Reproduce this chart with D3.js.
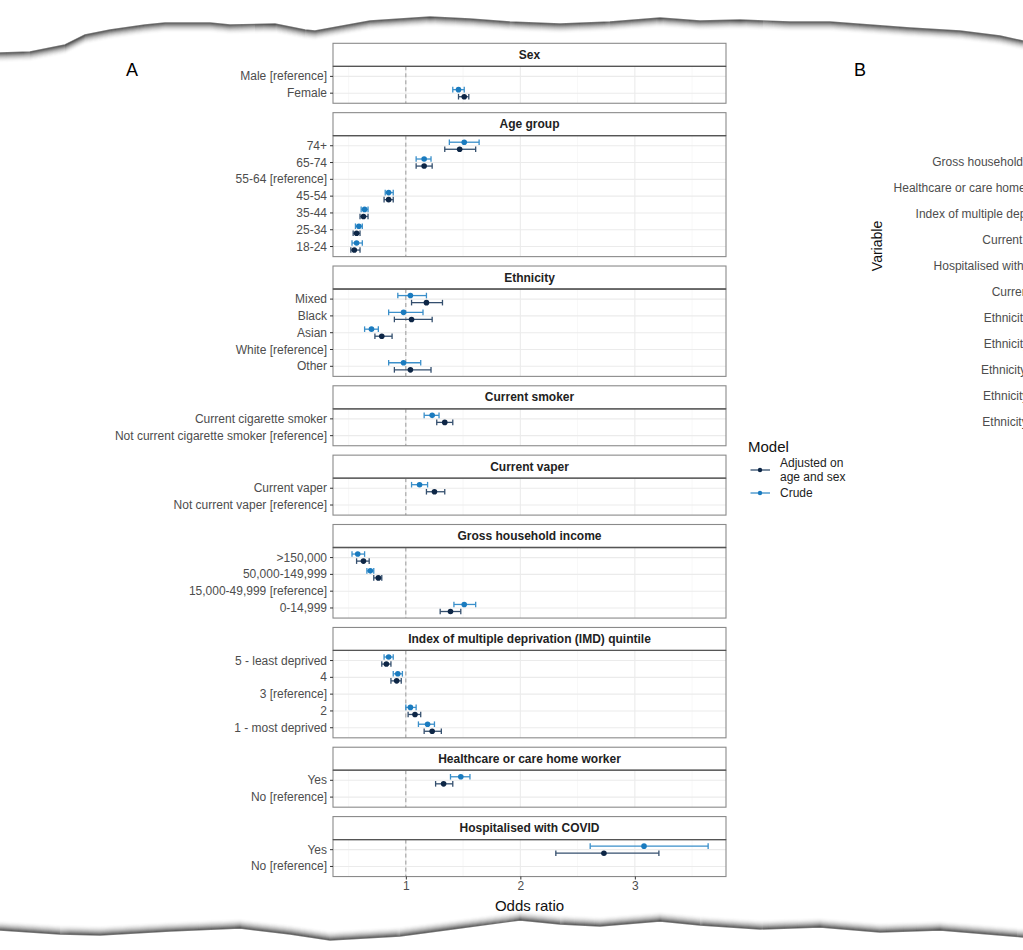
<!DOCTYPE html>
<html>
<head>
<meta charset="utf-8">
<title>Odds ratios</title>
<script src="https://d3js.org/d3.v7.min.js"></script>
<style>
  body { margin: 0; background: #fff; }
  svg { display: block; font-family: "Liberation Sans", Arial, sans-serif; }
</style>
</head>
<body>
<div id="chart"></div>
<script>
// DATA

var groups = ["Sex", "Age group", "Ethnicity", "Current smoker", "Current vaper",
  "Gross household income", "Index of multiple deprivation (IMD) quintile",
  "Healthcare or care home worker", "Hospitalised with COVID"];

var levels = [
  ["Male [reference]", "Female"],
  ["74+", "65-74", "55-64 [reference]", "45-54", "35-44", "25-34", "18-24"],
  ["Mixed", "Black", "Asian", "White [reference]", "Other"],
  ["Current cigarette smoker", "Not current cigarette smoker [reference]"],
  ["Current vaper", "Not current vaper [reference]"],
  [">150,000", "50,000-149,999", "15,000-49,999 [reference]", "0-14,999"],
  ["5 - least deprived", "4", "3 [reference]", "2", "1 - most deprived"],
  ["Yes", "No [reference]"],
  ["Yes", "No [reference]"]
];

var crudeOR = [[null, 1.46], [1.51, 1.16, null, 0.85, 0.64, 0.59, 0.57], [1.04, 0.98, 0.70, null, 0.98],
  [1.23, null], [1.12, null], [0.58, 0.69, null, 1.51], [0.85, 0.93, null, 1.04, 1.19], [1.48, null], [3.08, null]];
var crudeLo = [[null, 1.41], [1.38, 1.09, null, 0.82, 0.61, 0.56, 0.53], [0.93, 0.85, 0.64, null, 0.85],
  [1.16, null], [1.05, null], [0.53, 0.66, null, 1.42], [0.81, 0.89, null, 1.00, 1.11], [1.39, null], [2.61, null]];
var crudeHi = [[null, 1.51], [1.64, 1.22, null, 0.89, 0.67, 0.62, 0.62], [1.18, 1.15, 0.76, null, 1.13],
  [1.29, null], [1.19, null], [0.64, 0.72, null, 1.61], [0.89, 0.97, null, 1.09, 1.25], [1.56, null], [3.64, null]];

var adjOR = [[null, 1.51], [1.47, 1.16, null, 0.85, 0.63, 0.57, 0.55], [1.18, 1.05, 0.79, null, 1.04],
  [1.34, null], [1.25, null], [0.63, 0.76, null, 1.39], [0.83, 0.92, null, 1.08, 1.23], [1.33, null], [2.73, null]];
var adjLo = [[null, 1.46], [1.34, 1.09, null, 0.81, 0.60, 0.54, 0.52], [1.05, 0.90, 0.73, null, 0.90],
  [1.27, null], [1.18, null], [0.57, 0.72, null, 1.30], [0.79, 0.87, null, 1.02, 1.16], [1.26, null], [2.31, null]];
var adjHi = [[null, 1.55], [1.61, 1.23, null, 0.89, 0.67, 0.60, 0.60], [1.32, 1.23, 0.88, null, 1.22],
  [1.41, null], [1.34, null], [0.68, 0.79, null, 1.48], [0.87, 0.96, null, 1.13, 1.31], [1.41, null], [3.21, null]];

var xTicks = [1, 2, 3];
var xMinor = [0.5, 1.5, 2.5, 3.5];
var models = ["Adjusted on\nage and sex", "Crude"];

// labels of panel B, cut off at the right edge of the picture
var bLabels = ["Gross household income", "Healthcare or care home worker", "Index of multiple deprivation",
  "Current smoker", "Hospitalised with COVID", "Current vaper", "Ethnicity: Asian", "Ethnicity: Black",
  "Ethnicity: Mixed", "Ethnicity: Other", "Ethnicity: White"];

// torn paper edges (decoration)
var tornTop = [[0, 53], [30, 52], [65, 45], [85, 35], [110, 30], [145, 25], [165, 23], [210, 23], [230, 25],
  [275, 24], [305, 30], [315, 31], [370, 21], [430, 17], [470, 19], [510, 22], [560, 24], [610, 22], [660, 18],
  [700, 21], [740, 20], [790, 22], [830, 22], [870, 25], [910, 28], [960, 31], [1000, 36], [1023, 41]];
var tornBottom = [[0, 930], [60, 934], [100, 935], [170, 931], [240, 928], [290, 934], [330, 940], [400, 936],
  [460, 928], [520, 920], [560, 924], [600, 926], [660, 921], [700, 925], [760, 929], [820, 927], [880, 932],
  [940, 930], [1000, 935], [1023, 937]];

// SETUP

var width = 1023, height = 950;
var plotLeft = 333, plotRight = 726;
var stripH = 23, panelGap = 9.4, rowStep = 16.8, topY = 43.3;
var crudeCol = "#1a7bbf", crudeLine = "#3a8fca";
var adjCol = "#0d2646", adjLine = "#344f6e";

var svg = d3.select("#chart").append("svg")
  .attr("width", width)
  .attr("height", height);

// x scale with 5% expansion like ggplot
var allLo = d3.min(crudeLo.concat(adjLo).flat().filter(function (d) { return d != null }));
var allHi = d3.max(crudeHi.concat(adjHi).flat().filter(function (d) { return d != null }));
var pad = (allHi - allLo) * 0.05;
var x = d3.scaleLinear().domain([allLo - pad, allHi + pad]).range([plotLeft, plotRight]);

// PANELS

var cursor = topY;
var lastBottom = 0;
groups.forEach(function (g, gi) {
  var lv = levels[gi];
  var stripTop = cursor;
  var bodyTop = stripTop + stripH;
  var bodyH = rowStep * (lv.length - 1 + 1.2);
  var bodyBottom = bodyTop + bodyH;
  var y = d3.scalePoint().domain(lv).range([bodyTop, bodyBottom]).padding(0.6);
  var panel = svg.append("g");

  // minor + major grid
  panel.selectAll(".minor").data(xMinor.filter(function (d) { return d > x.domain()[0] && d < x.domain()[1] }))
    .enter().append("line")
    .attr("x1", function (d) { return x(d) }).attr("x2", function (d) { return x(d) })
    .attr("y1", bodyTop).attr("y2", bodyBottom)
    .attr("stroke", "#f2f2f2").attr("stroke-width", 0.6);
  panel.selectAll(".vmaj").data(xTicks).enter().append("line")
    .attr("x1", function (d) { return x(d) }).attr("x2", function (d) { return x(d) })
    .attr("y1", bodyTop).attr("y2", bodyBottom)
    .attr("stroke", "#ebebeb").attr("stroke-width", 1.1);
  panel.selectAll(".hmaj").data(lv).enter().append("line")
    .attr("x1", plotLeft).attr("x2", plotRight)
    .attr("y1", function (d) { return y(d) }).attr("y2", function (d) { return y(d) })
    .attr("stroke", "#ebebeb").attr("stroke-width", 1.1);

  // reference line at OR = 1
  panel.append("line")
    .attr("x1", x(1)).attr("x2", x(1))
    .attr("y1", bodyTop).attr("y2", bodyBottom)
    .attr("stroke", "#9a9a9a").attr("stroke-width", 1)
    .attr("stroke-dasharray", "4,3");

  // point ranges
  var dodge = y.step() * 0.21;
  var series = [
    { or: crudeOR[gi], lo: crudeLo[gi], hi: crudeHi[gi], off: -dodge, col: crudeCol, line: crudeLine },
    { or: adjOR[gi], lo: adjLo[gi], hi: adjHi[gi], off: dodge, col: adjCol, line: adjLine }
  ];
  series.forEach(function (s) {
    lv.forEach(function (name, i) {
      if (s.or[i] == null) return;
      var yy = y(name) + s.off;
      panel.append("line")
        .attr("x1", x(s.lo[i])).attr("x2", x(s.hi[i]))
        .attr("y1", yy).attr("y2", yy)
        .attr("stroke", s.line).attr("stroke-width", 1.3);
      [s.lo[i], s.hi[i]].forEach(function (v) {
        panel.append("line")
          .attr("x1", x(v)).attr("x2", x(v))
          .attr("y1", yy - 2.8).attr("y2", yy + 2.8)
          .attr("stroke", s.line).attr("stroke-width", 1.3);
      });
      panel.append("circle")
        .attr("cx", x(s.or[i])).attr("cy", yy).attr("r", 2.8)
        .attr("fill", s.col);
    });
  });

  // borders and strip
  panel.append("rect")
    .attr("x", plotLeft).attr("y", bodyTop)
    .attr("width", plotRight - plotLeft).attr("height", bodyH)
    .attr("fill", "none").attr("stroke", "#8a8a8a").attr("stroke-width", 1.1);
  panel.append("rect")
    .attr("x", plotLeft).attr("y", stripTop)
    .attr("width", plotRight - plotLeft).attr("height", stripH)
    .attr("fill", "#fff").attr("stroke", "#8a8a8a").attr("stroke-width", 1.1);
  panel.append("line")
    .attr("x1", plotLeft).attr("x2", plotRight)
    .attr("y1", bodyTop).attr("y2", bodyTop)
    .attr("stroke", "#555").attr("stroke-width", 1.3);
  panel.append("text")
    .attr("x", (plotLeft + plotRight) / 2).attr("y", stripTop + stripH / 2)
    .attr("text-anchor", "middle").attr("dominant-baseline", "central")
    .style("font-size", "12px").style("font-weight", "bold").style("fill", "#222")
    .text(g);

  // y axis
  panel.selectAll(".yt").data(lv).enter().append("line")
    .attr("x1", plotLeft - 3).attr("x2", plotLeft)
    .attr("y1", function (d) { return y(d) }).attr("y2", function (d) { return y(d) })
    .attr("stroke", "#333").attr("stroke-width", 1);
  panel.selectAll(".yl").data(lv).enter().append("text")
    .attr("x", plotLeft - 6).attr("y", function (d) { return y(d) })
    .attr("text-anchor", "end").attr("dominant-baseline", "central")
    .style("font-size", "12px").style("fill", "#4d4d4d")
    .text(function (d) { return d });

  lastBottom = bodyBottom;
  cursor = bodyBottom + panelGap;
});

// x axis
var xAxis = svg.append("g").attr("transform", "translate(0," + lastBottom + ")")
  .call(d3.axisBottom(x).tickValues(xTicks).tickSize(3).tickPadding(2).tickFormat(d3.format("d")));
xAxis.select(".domain").remove();
xAxis.selectAll(".tick line").attr("stroke", "#333");
xAxis.selectAll(".tick text").style("font-size", "12px").style("fill", "#4d4d4d")
  .style("font-family", "'Liberation Sans', Arial, sans-serif");
svg.append("text")
  .attr("x", (plotLeft + plotRight) / 2).attr("y", lastBottom + 34)
  .attr("text-anchor", "middle")
  .style("font-size", "15px").style("fill", "#111")
  .text("Odds ratio");

// panel tags
svg.append("text").attr("x", 126).attr("y", 76).style("font-size", "18px").text("A");
svg.append("text").attr("x", 854).attr("y", 76).style("font-size", "18px").text("B");

// LEGEND

var legend = svg.append("g").attr("transform", "translate(748,0)");
legend.append("text").attr("x", 0).attr("y", 452).style("font-size", "15px").style("fill", "#111").text("Model");
var legendY = d3.scalePoint().domain(models).range([470, 493]);
var legendCols = [[adjCol, adjLine], [crudeCol, crudeLine]];
models.forEach(function (m, i) {
  var yy = legendY(m);
  legend.append("line").attr("x1", 2.5).attr("x2", 22).attr("y1", yy).attr("y2", yy)
    .attr("stroke", legendCols[i][1]).attr("stroke-width", 1.3);
  legend.append("circle").attr("cx", 12).attr("cy", yy).attr("r", 2.2).attr("fill", legendCols[i][0]);
  var lines = m.split("\n");
  var t = legend.append("text").attr("x", 32).style("font-size", "12px").style("fill", "#222");
  lines.forEach(function (l, j) {
    t.append("tspan").attr("x", 32)
      .attr("y", yy + (j - (lines.length - 1) / 2) * 13.3)
      .attr("dominant-baseline", "central").text(l);
  });
});

// PANEL B (cut off)

var bY = d3.scalePoint().domain(bLabels).range([161.7, 421.7]);
svg.append("g").selectAll("text").data(bLabels).enter().append("text")
  .attr("x", 1065).attr("y", function (d) { return bY(d) })
  .attr("text-anchor", "end").attr("dominant-baseline", "central")
  .style("font-size", "12px").style("fill", "#4d4d4d")
  .text(function (d) { return d });
svg.append("text")
  .attr("transform", "translate(882,246) rotate(-90)")
  .attr("text-anchor", "middle")
  .style("font-size", "14px").style("fill", "#111")
  .text("Variable");

// TORN EDGES

var edgeLine = d3.line().curve(d3.curveLinear);
function tornEdge(pts, dir) {
  var g = svg.append("g");
  // white beyond the edge
  var outer = pts.slice();
  outer.push([width, dir > 0 ? 0 : height]);
  outer.unshift([0, dir > 0 ? 0 : height]);
  g.append("path").attr("d", edgeLine(outer) + "Z").attr("fill", "#fff");
  for (var i = 10; i >= 0; i--) {
    g.append("path")
      .attr("d", edgeLine(pts.map(function (p) { return [p[0], p[1] + dir * i] })))
      .attr("fill", "none")
      .attr("stroke", "#1a1a1a")
      .attr("stroke-width", 1.4)
      .attr("stroke-opacity", Math.pow(1 - i / 11, 2.5) * 0.6);
  }
}
tornEdge(tornTop, 1);
tornEdge(tornBottom, -1);
</script>
</body>
</html>
